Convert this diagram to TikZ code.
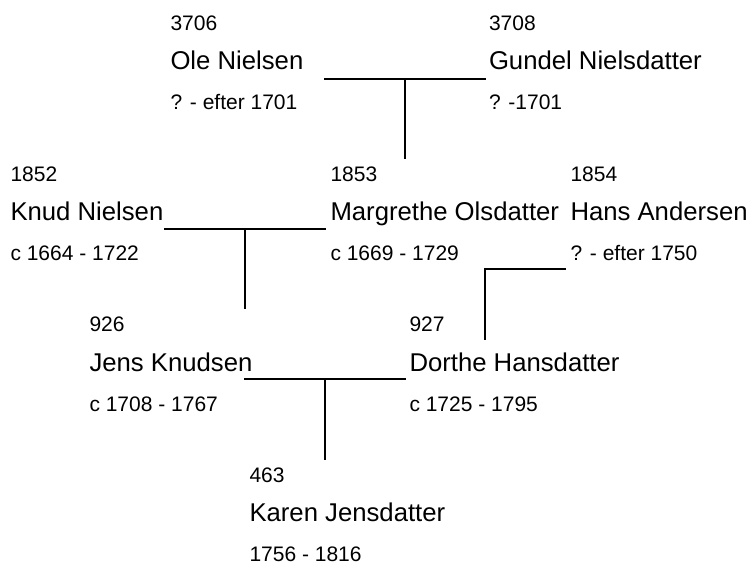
\documentclass[tikz,border=0pt]{standalone}
\usepackage{fontspec}
\setmainfont{Liberation Sans}
\begin{document}
\begin{tikzpicture}[x=1pt,y=-1pt,
  every node/.style={inner sep=0pt, outer sep=0pt, anchor=base west, text=black},
  numtxt/.style={font=\fontsize{21}{24}\selectfont},
  nametxt/.style={font=\fontsize{25.7}{30}\selectfont},
  datetxt/.style={font=\fontsize{21}{24}\selectfont},
  link/.style={line width=2pt, draw=black}]
\useasboundingbox (0,0) rectangle (753,564);
\newcommand\pers[6]{%
  \node[numtxt] (#1n) at (#2,#3) {#4};
  \node[nametxt] (#1) at (#2,#3+39) {#5};
  \node[datetxt] (#1d) at (#2,#3+79) {#6};}
\pers{p3706}{170.5}{31}{3706}{Ole Nielsen}{? - efter 1701}
\pers{p3708}{489}{31}{3708}{Gundel Nielsdatter}{? -1701}
\pers{p1852}{10.5}{182}{1852}{Knud Nielsen}{c 1664 - 1722}
\pers{p1853}{330.5}{182}{1853}{Margrethe Olsdatter}{c 1669 - 1729}
\pers{p1854}{570.5}{182}{1854}{Hans Andersen}{? - efter 1750}
\pers{p926}{89.5}{332}{926}{Jens Knudsen}{c 1708 - 1767}
\pers{p927}{409.5}{332}{927}{Dorthe Hansdatter}{c 1725 - 1795}
\pers{p463}{249.5}{482}{463}{Karen Jensdatter}{1756 - 1816}
% couple 3706 + 3708 -> 1853
\coordinate (a1) at (324,79);
\coordinate (b1) at (486,79);
\coordinate (t1) at (405,79);
\coordinate (e1) at (405,159);
\draw[link] (a1) -- (b1);
\draw[link] (t1) -- (e1);
% couple 1852 + 1853 -> 926
\coordinate (a2) at (164,229);
\coordinate (b2) at (326,229);
\coordinate (t2) at (245,229);
\coordinate (e2) at (245,309);
\draw[link] (a2) -- (b2);
\draw[link] (t2) -- (e2);
% couple 926 + 927 -> 463
\coordinate (a3) at (244,379);
\coordinate (b3) at (406,379);
\coordinate (t3) at (325,379);
\coordinate (e3) at (325,460);
\draw[link] (a3) -- (b3);
\draw[link] (t3) -- (e3);
% 1854 -> 927
\coordinate (a4) at (566,269);
\coordinate (k4) at (485,269);
\coordinate (e4) at (485,340);
\draw[link] (a4) -- (k4) -- (e4);
\end{tikzpicture}
\end{document}
